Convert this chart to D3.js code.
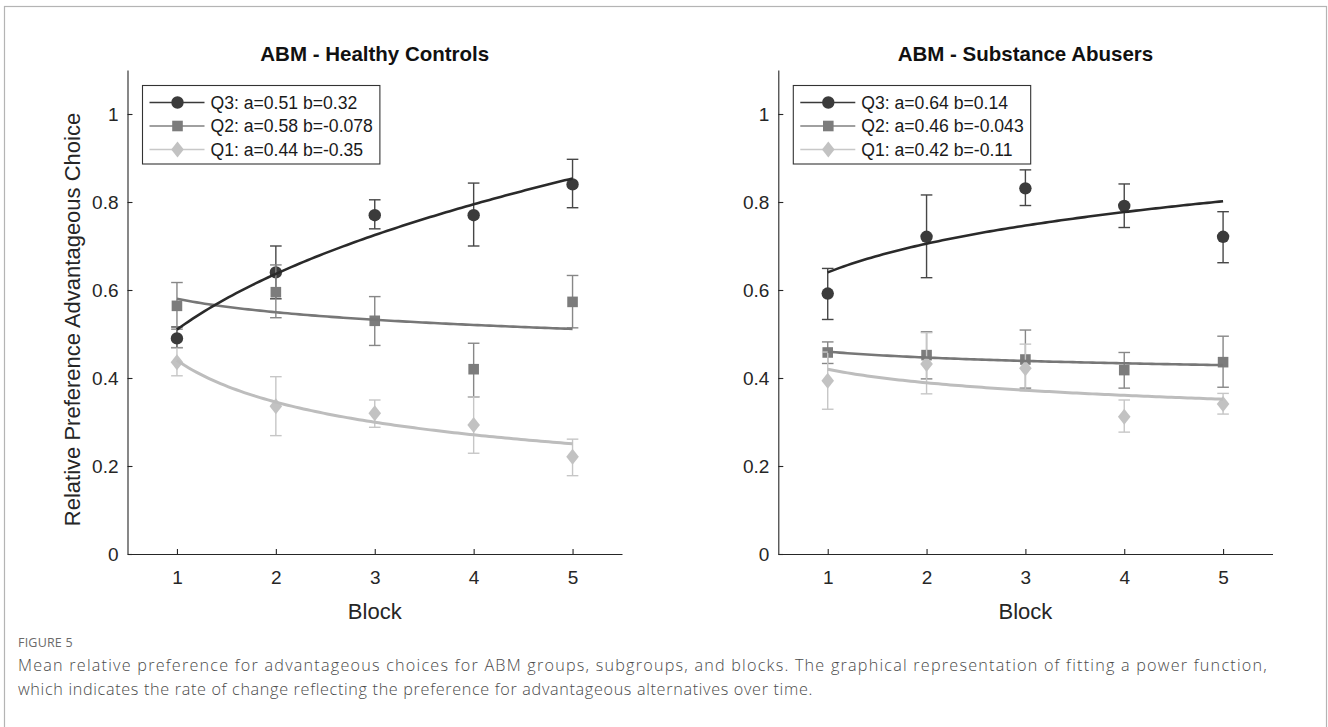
<!DOCTYPE html>
<html><head><meta charset="utf-8">
<script src="https://cdn.jsdelivr.net/npm/d3@7"></script>
<style>
html,body{margin:0;padding:0;background:#fff;}
svg{display:block;}
</style></head>
<body>
<svg id="chart" width="1328" height="727"></svg>
<script>
// ---------- data ----------
const blocks = [1, 2, 3, 4, 5];
const seriesNames = ["Q3", "Q2", "Q1"];
const yTickValues = [0, 0.2, 0.4, 0.6, 0.8, 1];
const yTickLabels = ["0", "0.2", "0.4", "0.6", "0.8", "1"];
const xTickLabels = ["1", "2", "3", "4", "5"];

// Healthy Controls
const hcQ3Mean = [0.49, 0.64, 0.77, 0.77, 0.84];
const hcQ3Lo   = [0.469, 0.58, 0.739, 0.70, 0.787];
const hcQ3Hi   = [0.516, 0.70, 0.805, 0.843, 0.897];
const hcQ2Mean = [0.564, 0.595, 0.53, 0.42, 0.573];
const hcQ2Lo   = [0.511, 0.537, 0.474, 0.357, 0.514];
const hcQ2Hi   = [0.617, 0.657, 0.585, 0.479, 0.633];
const hcQ1Mean = [0.436, 0.336, 0.32, 0.293, 0.221];
const hcQ1Lo   = [0.405, 0.269, 0.288, 0.229, 0.178];
const hcQ1Hi   = [0.468, 0.403, 0.35, 0.357, 0.261];
const hcFitA = [0.51, 0.58, 0.44];
const hcFitB = [0.32, -0.078, -0.35];

// Substance Abusers
const saQ3Mean = [0.592, 0.721, 0.831, 0.791, 0.721];
const saQ3Lo   = [0.533, 0.628, 0.792, 0.742, 0.662];
const saQ3Hi   = [0.649, 0.816, 0.873, 0.841, 0.778];
const saQ2Mean = [0.458, 0.452, 0.442, 0.418, 0.436];
const saQ2Lo   = [0.433, 0.398, 0.377, 0.377, 0.379];
const saQ2Hi   = [0.482, 0.505, 0.509, 0.458, 0.495];
const saQ1Mean = [0.394, 0.432, 0.422, 0.312, 0.341];
const saQ1Lo   = [0.329, 0.364, 0.371, 0.277, 0.318];
const saQ1Hi   = [0.459, 0.503, 0.477, 0.35, 0.365];
const saFitA = [0.64, 0.46, 0.42];
const saFitB = [0.14, -0.043, -0.11];

const panelTitles = ["ABM - Healthy Controls", "ABM - Substance Abusers"];
const yLabel = "Relative Preference Advantageous Choice";
const xLabel = "Block";
const figLabel = "FIGURE 5";
const captionLines = [
  "Mean relative preference for advantageous choices for ABM groups, subgroups, and blocks. The graphical representation of fitting a power function,",
  "which indicates the rate of change reflecting the preference for advantageous alternatives over time."
];

// ---------- styles ----------
const styles = {
  Q3: {marker: "#3b3b3b", curve: "#2a2a2a", err: "#474747", leg: "#3a3a3a", shape: "circle", curveW: 2.6},
  Q2: {marker: "#7c7c7c", curve: "#777777", err: "#878787", leg: "#808080", shape: "square", curveW: 2.6},
  Q1: {marker: "#c2c2c2", curve: "#bdbdbd", err: "#c6c6c6", leg: "#c8c8c8", shape: "diamond", curveW: 3}
};
const FONT = "'Liberation Sans', Arial, Helvetica, sans-serif";
const AXC = "#262626";

const svg = d3.select("#chart");
svg.append("rect").attr("x", 4.5).attr("y", 6.5).attr("width", 1322).attr("height", 760)
  .attr("fill", "none").attr("stroke", "#b4b4b4").attr("stroke-width", 1.2);

function markerPath(shape) {
  if (shape === "circle") return d3.symbol(d3.symbolCircle, Math.PI * 6.2 * 6.2)();
  if (shape === "square") { const h = 5.3; return `M${-h},${-h}H${h}V${h}H${-h}Z`; }
  const w = 6.3, h = 8; return `M0,${-h}L${w},0L0,${h}L${-w},0Z`;
}

const panels = [
  {x0: 127.5, x1: 622, series: [
    {name: "Q3", mean: hcQ3Mean, lo: hcQ3Lo, hi: hcQ3Hi, a: hcFitA[0], b: hcFitB[0]},
    {name: "Q2", mean: hcQ2Mean, lo: hcQ2Lo, hi: hcQ2Hi, a: hcFitA[1], b: hcFitB[1]},
    {name: "Q1", mean: hcQ1Mean, lo: hcQ1Lo, hi: hcQ1Hi, a: hcFitA[2], b: hcFitB[2]}], ylabel: true},
  {x0: 778.3, x1: 1272.5, series: [
    {name: "Q3", mean: saQ3Mean, lo: saQ3Lo, hi: saQ3Hi, a: saFitA[0], b: saFitB[0]},
    {name: "Q2", mean: saQ2Mean, lo: saQ2Lo, hi: saQ2Hi, a: saFitA[1], b: saFitB[1]},
    {name: "Q1", mean: saQ1Mean, lo: saQ1Lo, hi: saQ1Hi, a: saFitA[2], b: saFitB[2]}], ylabel: false}
];

panels.forEach((p, pi) => {
  const x = d3.scaleLinear().domain([0.5, 5.5]).range([p.x0, p.x1]);
  const y = d3.scaleLinear().domain([0, 1.1]).range([554, 70]);
  const g = svg.append("g");

  // axes
  const ya = g.append("g").attr("transform", `translate(${p.x0},0)`)
    .call(d3.axisLeft(y).tickValues(yTickValues).tickFormat((d, i) => yTickLabels[i])
      .tickSizeInner(-5).tickSizeOuter(0).tickPadding(9));
  const xa = g.append("g").attr("transform", `translate(0,554)`)
    .call(d3.axisBottom(x).tickValues(blocks).tickFormat((d, i) => xTickLabels[i])
      .tickSizeInner(-5).tickSizeOuter(0).tickPadding(17));
  [ya, xa].forEach(a => {
    a.select(".domain").attr("stroke", AXC).attr("stroke-width", 1.1);
    a.selectAll(".tick line").attr("stroke", AXC).attr("stroke-width", 1.1);
    a.selectAll(".tick text").attr("fill", AXC).style("font-family", FONT).style("font-size", "19px");
  });

  // title
  g.append("text").attr("x", (p.x0 + p.x1) / 2).attr("y", 60.5).attr("text-anchor", "middle")
    .style("font-family", FONT).style("font-size", "20.5px").style("font-weight", "bold")
    .attr("fill", "#111").text(panelTitles[pi]);
  // x label
  g.append("text").attr("x", (p.x0 + p.x1) / 2).attr("y", 618.5).attr("text-anchor", "middle")
    .style("font-family", FONT).style("font-size", "22px").attr("fill", AXC).text(xLabel);
  if (p.ylabel) {
    g.append("text").attr("transform", `translate(80,319.5) rotate(-90)`).attr("text-anchor", "middle")
      .style("font-family", FONT).style("font-size", "22px").attr("fill", AXC).text(yLabel);
  }

  // error bars + markers
  p.series.forEach(s => {
    const st = styles[s.name];
    const sg = g.append("g");
    blocks.forEach((bk, i) => {
      const cx = x(bk);
      sg.append("line").attr("x1", cx).attr("x2", cx).attr("y1", y(s.lo[i])).attr("y2", y(s.hi[i]))
        .attr("stroke", st.err).attr("stroke-width", 1.4);
      [s.lo[i], s.hi[i]].forEach(v => {
        sg.append("line").attr("x1", cx - 5.8).attr("x2", cx + 5.8).attr("y1", y(v)).attr("y2", y(v))
          .attr("stroke", st.err).attr("stroke-width", 1.4);
      });
    });
    sg.selectAll("path.m").data(blocks).join("path").attr("class", "m")
      .attr("d", markerPath(st.shape))
      .attr("transform", (d, i) => `translate(${x(d)},${y(s.mean[i])})`)
      .attr("fill", st.marker);
  });

  // fitted power curves (y = a * x^b, parameters from the legend)
  const xs = d3.range(1, 5.0001, 0.04);
  [...p.series].reverse().forEach(s => {
    const st = styles[s.name];
    const line = d3.line().x(d => x(d)).y(d => y(s.a * Math.pow(d, s.b)));
    g.append("path").datum(xs).attr("d", line).attr("fill", "none")
      .attr("stroke", st.curve).attr("stroke-width", st.curveW);
  });

  // legend
  const bx = p.x0 + 15, by = 85.5;
  const lg = g.append("g");
  const box = lg.append("rect").attr("x", bx).attr("y", by).attr("height", 78.5)
    .attr("fill", "#fff").attr("stroke", "#333").attr("stroke-width", 1.1);
  let maxW = 0;
  p.series.forEach((s, i) => {
    const st = styles[s.name];
    const cy = 102.5 + i * 23.5;
    lg.append("line").attr("x1", bx + 7).attr("x2", bx + 62).attr("y1", cy).attr("y2", cy)
      .attr("stroke", st.leg).attr("stroke-width", 1.4);
    lg.append("path").attr("d", markerPath(st.shape)).attr("transform", `translate(${bx + 35},${cy})`)
      .attr("fill", st.marker);
    const t = lg.append("text").attr("x", bx + 68).attr("y", cy + 6.3)
      .style("font-family", FONT).style("font-size", "17.6px").attr("fill", "#1a1a1a")
      .text(`${s.name}: a=${s.a} b=${s.b}`);
    maxW = Math.max(maxW, t.node().getComputedTextLength());
  });
  box.attr("width", 68 + maxW + 7);
});

// caption
svg.append("text").attr("x", 18).attr("y", 647).style("font-family", "'Open Sans', sans-serif")
  .style("font-size", "12.5px").style("letter-spacing", "0.2px").attr("fill", "#6a6a6a").text(figLabel);
const capFs = 16.2;
const capTargets = [1250, 795];
const capY = [670.5, 694.5];
captionLines.forEach((txt, i) => {
  const c = svg.append("text").attr("x", 18).attr("y", capY[i]).style("font-family", "'Open Sans', sans-serif")
    .style("font-size", capFs + "px").style("font-weight", 300).attr("fill", "#4a4a4a").text(txt);
  const w = c.node().getComputedTextLength();
  const ls = (capTargets[i] - w) / txt.length;
  c.style("letter-spacing", ls + "px");
});
</script>
</body></html>
